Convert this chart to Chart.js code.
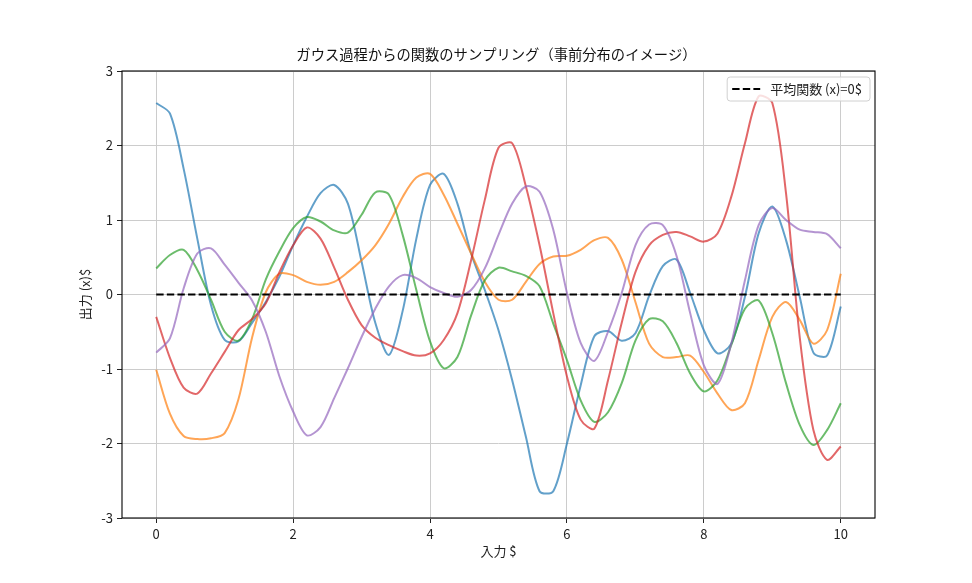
<!DOCTYPE html>
<html>
<head>
<meta charset="utf-8">
<script src="https://cdn.jsdelivr.net/npm/chart.js@4/dist/chart.umd.min.js"></script>
<style>
  html, body { margin: 0; padding: 0; background: #ffffff; }
  #wrap { width: 972px; height: 583px; }
</style>
</head>
<body>
<div id="wrap"><canvas id="c" width="972" height="583"></canvas></div>
<script>
// ---- data ----
const xValues = [0,0.2,0.4,0.6,0.8,1.0,1.2,1.4,1.6,1.8,2.0,2.2,2.4,2.6,2.8,3.0,3.2,3.4,3.6,3.8,4.0,4.2,4.4,4.6,4.8,5.0,5.2,5.4,5.6,5.8,6.0,6.2,6.4,6.6,6.8,7.0,7.2,7.4,7.6,7.8,8.0,8.2,8.4,8.6,8.8,9.0,9.2,9.4,9.6,9.8,10];

const sample1 = [2.57,2.43,1.69,0.75,-0.14,-0.61,-0.63,-0.38,-0.10,0.24,0.66,1.04,1.36,1.47,1.22,0.44,-0.38,-0.81,-0.22,0.75,1.47,1.62,1.22,0.55,0.06,-0.48,-1.15,-1.91,-2.64,-2.64,-2.00,-1.22,-0.56,-0.49,-0.62,-0.52,-0.02,0.38,0.47,0.02,-0.48,-0.79,-0.66,-0.03,0.82,1.18,0.73,-0.03,-0.78,-0.82,-0.16];
const sample2 = [-1.01,-1.60,-1.90,-1.94,-1.93,-1.86,-1.41,-0.58,0.03,0.28,0.26,0.17,0.13,0.17,0.30,0.46,0.66,0.95,1.31,1.57,1.62,1.34,0.95,0.55,0.17,-0.07,-0.07,0.17,0.41,0.51,0.52,0.60,0.73,0.76,0.47,-0.10,-0.66,-0.84,-0.84,-0.82,-1.04,-1.33,-1.55,-1.46,-0.88,-0.30,-0.10,-0.34,-0.66,-0.48,0.28];
const sample3 = [0.35,0.53,0.60,0.33,-0.07,-0.50,-0.62,-0.33,0.20,0.58,0.89,1.04,0.98,0.86,0.83,1.07,1.37,1.34,0.80,0.06,-0.63,-0.99,-0.84,-0.28,0.19,0.36,0.31,0.25,0.11,-0.39,-0.88,-1.42,-1.71,-1.58,-1.19,-0.62,-0.33,-0.36,-0.65,-1.06,-1.30,-1.15,-0.68,-0.19,-0.08,-0.52,-1.19,-1.75,-2.02,-1.82,-1.46];
const sample4 = [-0.30,-0.85,-1.25,-1.33,-1.06,-0.77,-0.48,-0.33,-0.12,0.30,0.66,0.90,0.75,0.36,-0.07,-0.41,-0.58,-0.68,-0.76,-0.82,-0.79,-0.61,-0.25,0.46,1.27,1.97,2.03,1.45,0.66,-0.25,-1.10,-1.68,-1.80,-1.15,-0.38,0.30,0.66,0.80,0.84,0.78,0.71,0.82,1.31,2.03,2.66,2.57,1.36,-0.57,-1.82,-2.22,-2.04];
const sample5 = [-0.78,-0.59,0.08,0.55,0.62,0.40,0.16,-0.08,-0.50,-1.10,-1.57,-1.89,-1.78,-1.39,-0.99,-0.57,-0.19,0.11,0.26,0.22,0.10,0.02,-0.03,0.06,0.35,0.80,1.22,1.45,1.38,0.87,0.02,-0.65,-0.89,-0.50,0.02,0.66,0.94,0.93,0.52,-0.25,-0.95,-1.20,-0.66,0.19,0.93,1.16,1.00,0.87,0.84,0.81,0.62];

const meanX = [0, 10];
const meanY = [0, 0];

const xTicks = [0, 2, 4, 6, 8, 10];
const yTicks = [-3, -2, -1, 0, 1, 2, 3];

const titleText = 'ガウス過程からの関数のサンプリング（事前分布のイメージ）';
const xLabel = '入力 $';
const yLabel = '出力 (x)$';
const meanLabel = '平均関数 (x)=0$';

// ---- styles ----
const FONT = '"Noto Sans CJK JP", "DejaVu Sans", sans-serif';
Chart.defaults.font.family = FONT;
Chart.defaults.font.size = 13;
Chart.defaults.color = '#222';

const sampleColors = [
  'rgba(31,119,180,0.7)',
  'rgba(255,127,14,0.7)',
  'rgba(44,160,44,0.7)',
  'rgba(214,39,40,0.7)',
  'rgba(148,103,189,0.7)'
];
const samples = [sample1, sample2, sample3, sample4, sample5];

const datasets = samples.map((s, k) => ({
  data: xValues.map((x, i) => ({ x: x, y: s[i] })),
  borderColor: sampleColors[k],
  borderWidth: 2,
  pointRadius: 0,
  tension: 0.3,
  fill: false,
  order: 5 - k
}));
datasets.push({
  label: meanLabel,
  data: meanX.map((x, i) => ({ x: x, y: meanY[i] })),
  borderColor: '#000',
  borderWidth: 2,
  borderDash: [7.4, 3.2],
  pointRadius: 0,
  fill: false,
  order: 0
});

// frame + title + legend
const decor = {
  id: 'decor',
  afterDatasetsDraw(chart) {
    const { ctx, chartArea: a } = chart;
    ctx.save();
    ctx.strokeStyle = '#000';
    ctx.lineWidth = 1.1;
    ctx.strokeRect(a.left, a.top, a.right - a.left, a.bottom - a.top);

    // legend
    const ds = chart.data.datasets[chart.data.datasets.length - 1];
    ctx.font = '13px ' + FONT;
    const tw = ctx.measureText(ds.label).width;
    const bw = 5 + 28 + 10 + tw + 8;
    const bh = 24;
    const bx = a.right - 5 - bw;
    const by = a.top + 6;
    const r = 3;
    ctx.beginPath();
    ctx.moveTo(bx + r, by);
    ctx.lineTo(bx + bw - r, by);
    ctx.quadraticCurveTo(bx + bw, by, bx + bw, by + r);
    ctx.lineTo(bx + bw, by + bh - r);
    ctx.quadraticCurveTo(bx + bw, by + bh, bx + bw - r, by + bh);
    ctx.lineTo(bx + r, by + bh);
    ctx.quadraticCurveTo(bx, by + bh, bx, by + bh - r);
    ctx.lineTo(bx, by + r);
    ctx.quadraticCurveTo(bx, by, bx + r, by);
    ctx.closePath();
    ctx.fillStyle = 'rgba(255,255,255,0.8)';
    ctx.fill();
    ctx.strokeStyle = '#d0d0d0';
    ctx.lineWidth = 1;
    ctx.stroke();

    ctx.beginPath();
    ctx.setLineDash(ds.borderDash);
    ctx.strokeStyle = ds.borderColor;
    ctx.lineWidth = ds.borderWidth;
    ctx.moveTo(bx + 5, by + bh / 2);
    ctx.lineTo(bx + 33, by + bh / 2);
    ctx.stroke();
    ctx.setLineDash([]);
    ctx.fillStyle = '#222';
    ctx.textBaseline = 'middle';
    ctx.textAlign = 'left';
    ctx.fillText(ds.label, bx + 43, by + bh / 2 + 0.5);

    // title
    ctx.font = '14.3px ' + FONT;
    ctx.textAlign = 'center';
    ctx.textBaseline = 'middle';
    ctx.fillStyle = '#111';
    ctx.fillText(titleText, (a.left + a.right) / 2 - 2, 55);
    ctx.restore();
  }
};

new Chart(document.getElementById('c'), {
  type: 'line',
  data: { datasets: datasets },
  options: {
    responsive: false,
    animation: false,
    devicePixelRatio: 1,
    layout: { padding: { top: 71, right: 97, bottom: 0, left: 0 } },
    plugins: {
      legend: { display: false },
      title: { display: false },
      tooltip: { enabled: false }
    },
    scales: {
      x: {
        type: 'linear',
        min: -0.5,
        max: 10.5,
        afterBuildTicks: (s) => { s.ticks = xTicks.map(v => ({ value: v })); },
        afterFit: (s) => { s.height = 65; },
        ticks: { color: '#222', font: { size: 13 }, padding: 3, maxRotation: 0, autoSkip: false },
        grid: { color: '#cccccc', lineWidth: 1, tickLength: 5, tickColor: '#222', drawTicks: true },
        border: { display: false },
        title: { display: true, text: xLabel, color: '#222', font: { size: 13 }, padding: { top: 0, bottom: 24 } }
      },
      y: {
        type: 'linear',
        min: -3,
        max: 3,
        afterBuildTicks: (s) => { s.ticks = yTicks.map(v => ({ value: v })); },
        afterFit: (s) => { s.width = 122; },
        ticks: { color: '#222', font: { size: 13 }, padding: 4 },
        grid: { color: '#cccccc', lineWidth: 1, tickLength: 5, tickColor: '#222', drawTicks: true },
        border: { display: false },
        title: { display: true, text: yLabel, color: '#222', font: { size: 13 }, padding: { top: 77, bottom: 0 } }
      }
    }
  },
  plugins: [decor]
});
</script>
</body>
</html>
